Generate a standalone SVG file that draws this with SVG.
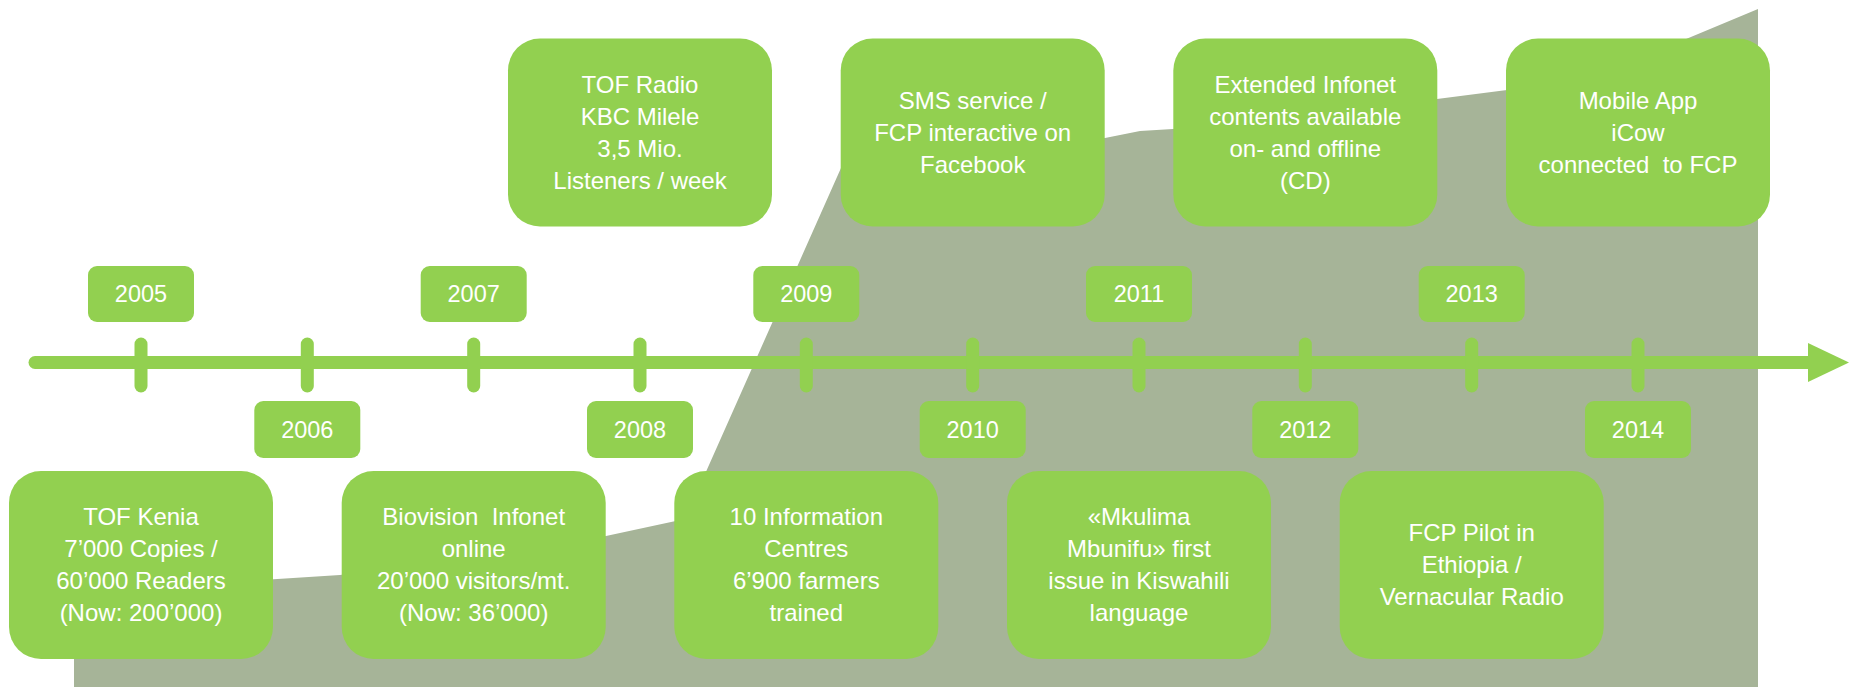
<svg xmlns="http://www.w3.org/2000/svg" width="1849" height="687" viewBox="0 0 1849 687">
<style>
.box{fill:#92D050}
.t{fill:#FFFFFF;font-family:"Liberation Sans",Arial,sans-serif;font-size:24px;text-anchor:middle}
.y{fill:#FFFFFF;font-family:"Liberation Sans",Arial,sans-serif;font-size:23.5px;text-anchor:middle}
.ln{stroke:#92D050;stroke-width:13;stroke-linecap:round;fill:none}
</style>
<rect x="0" y="0" width="1849" height="687" fill="#FFFFFF"/>
<polygon id="growth" fill="#A6B498" points="74,687 74,592 340,575 606,536 685,519 849,150 1105,138 1140,131 1173,129 1437,99 1507,90 1595,77 1758,9 1758,687"/>
<g id="connectors">
<line class="ln" x1="35" y1="362.5" x2="1812" y2="362.5" style="stroke-linecap:butt"/>
<line class="ln" x1="35" y1="362.5" x2="40" y2="362.5"/>
<polygon fill="#92D050" points="1808,343 1849,362.5 1808,382"/>
<line class="ln" x1="141" y1="344" x2="141" y2="386"/>
<line class="ln" x1="307.3" y1="344" x2="307.3" y2="386"/>
<line class="ln" x1="473.7" y1="344" x2="473.7" y2="386"/>
<line class="ln" x1="640" y1="344" x2="640" y2="386"/>
<line class="ln" x1="806.3" y1="344" x2="806.3" y2="386"/>
<line class="ln" x1="972.7" y1="344" x2="972.7" y2="386"/>
<line class="ln" x1="1139" y1="344" x2="1139" y2="386"/>
<line class="ln" x1="1305.3" y1="344" x2="1305.3" y2="386"/>
<line class="ln" x1="1471.7" y1="344" x2="1471.7" y2="386"/>
<line class="ln" x1="1638" y1="344" x2="1638" y2="386"/>
</g>
<g id="y2005"><rect class="box" x="88" y="266" width="106" height="56" rx="9"/><text class="y" x="141" y="302">2005</text></g>
<g id="y2006"><rect class="box" x="254.3" y="401" width="106" height="57" rx="9"/><text class="y" x="307.3" y="438">2006</text></g>
<g id="y2007"><rect class="box" x="420.7" y="266" width="106" height="56" rx="9"/><text class="y" x="473.7" y="302">2007</text></g>
<g id="y2008"><rect class="box" x="587" y="401" width="106" height="57" rx="9"/><text class="y" x="640" y="438">2008</text></g>
<g id="y2009"><rect class="box" x="753.3" y="266" width="106" height="56" rx="9"/><text class="y" x="806.3" y="302">2009</text></g>
<g id="y2010"><rect class="box" x="919.7" y="401" width="106" height="57" rx="9"/><text class="y" x="972.7" y="438">2010</text></g>
<g id="y2011"><rect class="box" x="1086" y="266" width="106" height="56" rx="9"/><text class="y" x="1139" y="302">2011</text></g>
<g id="y2012"><rect class="box" x="1252.3" y="401" width="106" height="57" rx="9"/><text class="y" x="1305.3" y="438">2012</text></g>
<g id="y2013"><rect class="box" x="1418.7" y="266" width="106" height="56" rx="9"/><text class="y" x="1471.7" y="302">2013</text></g>
<g id="y2014"><rect class="box" x="1585" y="401" width="106" height="57" rx="9"/><text class="y" x="1638" y="438">2014</text></g>
<g id="tofRadio"><rect class="box" x="508" y="38.5" width="264" height="188" rx="32"/>
<text class="t" x="640" y="93">TOF Radio</text><text class="t" x="640" y="125">KBC Milele</text><text class="t" x="640" y="157">3,5 Mio.</text><text class="t" x="640" y="189">Listeners / week</text></g>
<g id="sms"><rect class="box" x="840.7" y="38.5" width="264" height="188" rx="32"/>
<text class="t" x="972.7" y="109">SMS service /</text><text class="t" x="972.7" y="141">FCP interactive on</text><text class="t" x="972.7" y="173">Facebook</text></g>
<g id="extended"><rect class="box" x="1173.3" y="38.5" width="264" height="188" rx="32"/>
<text class="t" x="1305.3" y="93">Extended Infonet</text><text class="t" x="1305.3" y="125">contents available</text><text class="t" x="1305.3" y="157">on- and offline</text><text class="t" x="1305.3" y="189">(CD)</text></g>
<g id="mobile"><rect class="box" x="1506" y="38.5" width="264" height="188" rx="32"/>
<text class="t" x="1638" y="109">Mobile App</text><text class="t" x="1638" y="141">iCow</text><text class="t" x="1638" y="173" xml:space="preserve">connected  to FCP</text></g>
<g id="tofKenia"><rect class="box" x="9" y="471" width="264" height="188" rx="32"/>
<text class="t" x="141" y="525">TOF Kenia</text><text class="t" x="141" y="557">7’000 Copies /</text><text class="t" x="141" y="589">60’000 Readers</text><text class="t" x="141" y="621">(Now: 200’000)</text></g>
<g id="biovision"><rect class="box" x="341.7" y="471" width="264" height="188" rx="32"/>
<text class="t" x="473.7" y="525" xml:space="preserve">Biovision  Infonet</text><text class="t" x="473.7" y="557">online</text><text class="t" x="473.7" y="589">20’000 visitors/mt.</text><text class="t" x="473.7" y="621">(Now: 36’000)</text></g>
<g id="infoCentres"><rect class="box" x="674.3" y="471" width="264" height="188" rx="32"/>
<text class="t" x="806.3" y="525">10 Information</text><text class="t" x="806.3" y="557">Centres</text><text class="t" x="806.3" y="589">6’900 farmers</text><text class="t" x="806.3" y="621">trained</text></g>
<g id="mkulima"><rect class="box" x="1007" y="471" width="264" height="188" rx="32"/>
<text class="t" x="1139" y="525">«Mkulima</text><text class="t" x="1139" y="557">Mbunifu» first</text><text class="t" x="1139" y="589">issue in Kiswahili</text><text class="t" x="1139" y="621">language</text></g>
<g id="fcpPilot"><rect class="box" x="1339.7" y="471" width="264" height="188" rx="32"/>
<text class="t" x="1471.7" y="541">FCP Pilot in</text><text class="t" x="1471.7" y="573">Ethiopia /</text><text class="t" x="1471.7" y="605">Vernacular Radio</text></g>
</svg>
